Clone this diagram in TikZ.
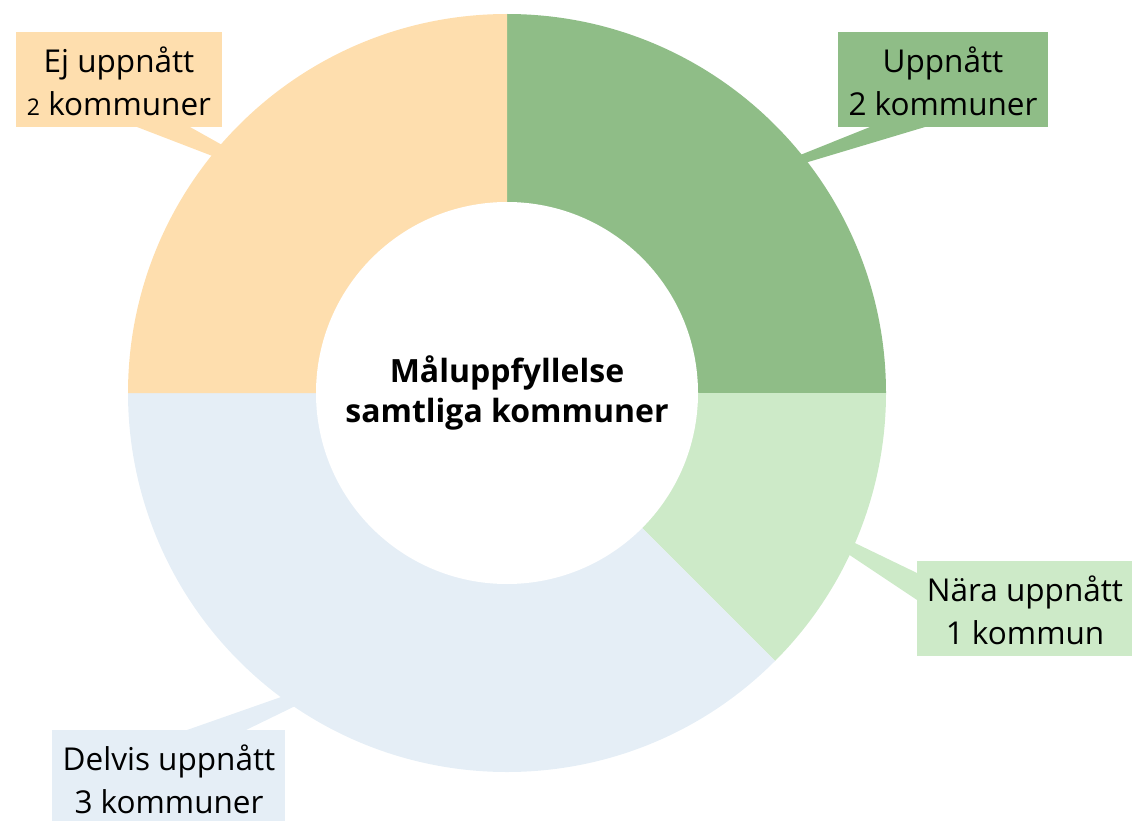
\documentclass[tikz,border=0pt]{standalone}
\usepackage{fontspec}
\setmainfont{Open Sans}
\definecolor{cUpp}{HTML}{8FBD87}
\definecolor{cNara}{HTML}{CDEAC8}
\definecolor{cDelvis}{HTML}{E5EEF6}
\definecolor{cEj}{HTML}{FEDEAE}
\tikzset{
  lbl/.style={inner sep=0pt, align=center, font=\fontsize{31.5}{43}\selectfont, anchor=center},
}
\begin{document}
\begin{tikzpicture}[x=1pt,y=-1pt]
\useasboundingbox (0,0) rectangle (1132,821);
\coordinate (c) at (507,393);
% callout wedges
\coordinate (tEj) at (306,192);
\coordinate (tUpp) at (708,192);
\coordinate (tNara) at (770,502);
\coordinate (tDel) at (398,656);
\fill[cEj] (137,127) -- (190,127) -- (tEj) -- cycle;
\fill[cUpp] (870,127) -- (925,127) -- (tUpp) -- cycle;
\fill[cNara] (917,573) -- (917,600) -- (tNara) -- cycle;
\fill[cDelvis] (187,730) -- (246,730) -- (tDel) -- cycle;
% donut segments
\fill[cUpp] (c) ++(0,-379) arc[start angle=-90, end angle=0, radius=379] -- (c) -- cycle;
\fill[cNara] (c) ++(379,0) arc[start angle=0, end angle=45, radius=379] -- (c) -- cycle;
\fill[cDelvis] (c) ++(268,268) arc[start angle=45, end angle=180, radius=379] -- (c) -- cycle;
\fill[cEj] (c) ++(-379,0) arc[start angle=180, end angle=270, radius=379] -- (c) -- cycle;
\fill[white] (c) circle[radius=191];
% title
\node[inner sep=0pt, align=center, font=\bfseries\fontsize{32}{40}\selectfont] (title) at (507,393) {Måluppfyllelse\\samtliga kommuner};
% label boxes
\fill[cEj] (16,32) rectangle (222,127);
\node[lbl] (ej) at (119,81) {Ej uppnått\\{\fontsize{23}{43}\selectfont 2} kommuner};
\fill[cUpp] (838,32) rectangle (1048,127);
\node[lbl] (upp) at (943,81) {Uppnått\\2 kommuner};
\fill[cNara] (917,561) rectangle (1132,656);
\node[lbl] (nara) at (1025,610) {Nära uppnått\\1 kommun};
\fill[cDelvis] (52,730) rectangle (285,821);
\node[lbl] (del) at (169,779) {Delvis uppnått\\3 kommuner};
\end{tikzpicture}
\end{document}
